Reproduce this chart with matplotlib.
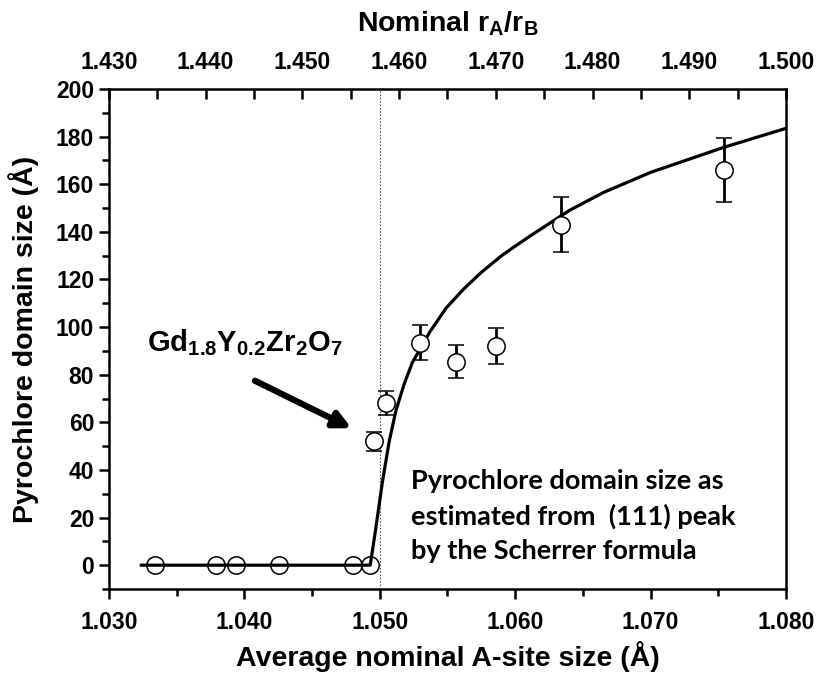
import matplotlib
matplotlib.use("Agg")
import matplotlib.pyplot as plt
from matplotlib.ticker import MultipleLocator, FixedLocator, FormatStrFormatter

plt.rcParams['font.family'] = ['Liberation Sans', 'DejaVu Sans']
plt.rcParams['font.weight'] = 'bold'
plt.rcParams['mathtext.fontset'] = 'custom'
plt.rcParams['mathtext.rm'] = 'Liberation Sans:bold'
plt.rcParams['mathtext.it'] = 'Liberation Sans:bold'
plt.rcParams['mathtext.bf'] = 'Liberation Sans:bold'

# points at zero domain size
x_cero = [1.0334, 1.0379, 1.0394, 1.0426, 1.0480, 1.0493]
y_cero = [0, 0, 0, 0, 0, 0]

# points with a measured domain size
x_med = [1.0496, 1.0505, 1.0530, 1.0556, 1.0586, 1.0634, 1.0754]
y_med = [52, 68, 93.5, 85.5, 92, 143, 166]
err_med = [4, 5, 7.5, 7, 7.5, 11.5, 13.5]

# guide line
x_curva = [1.0324, 1.0493, 1.0497, 1.0502, 1.0507, 1.0512, 1.0518, 1.0524,
           1.0530, 1.0537, 1.0549, 1.0562, 1.0575, 1.0590, 1.0600, 1.0613,
           1.0640, 1.0665, 1.0700, 1.0754, 1.0800]
y_curva = [0, 0, 15, 35, 52, 65, 76, 85, 91, 98, 108, 116, 123, 130, 134,
           139, 149, 156.5, 165, 175.5, 183.5]

x_umbral = 1.050

ticks_sup = [1.430, 1.440, 1.450, 1.460, 1.470, 1.480, 1.490, 1.500]
ticks_sup_menor = [1.435, 1.445, 1.455, 1.465, 1.475, 1.485, 1.495]

fig = plt.figure(figsize=(8.18, 6.77), dpi=100)
ax = fig.add_axes([0.133, 0.130, 0.828, 0.7385])

ax.axvline(x_umbral, color='#555555', lw=0.8, ls=(0, (1.5, 1.5)), zorder=1)
ax.plot(x_curva, y_curva, color='black', lw=2.3, zorder=2)
ax.plot(x_cero, y_cero, 'o', ms=12.5, mfc='none', mec='black', mew=1.1, zorder=3)
ax.errorbar(x_med, y_med, yerr=err_med, fmt='o', ms=12.5, mfc='white', mec='black',
            mew=1.1, ecolor='black', elinewidth=2, capsize=5.5, capthick=2, zorder=3)

ax.set_xlim(1.030, 1.080)
ax.set_ylim(-10, 200)
ax.xaxis.set_major_locator(MultipleLocator(0.01))
ax.xaxis.set_minor_locator(MultipleLocator(0.005))
ax.xaxis.set_major_formatter(FormatStrFormatter('%.3f'))
ax.yaxis.set_major_locator(MultipleLocator(20))
ax.yaxis.set_minor_locator(MultipleLocator(10))
ax.tick_params(which='both', direction='out', width=1.8, labelsize=16.5, right=False, top=False)
ax.tick_params(axis='x', which='both', pad=9)
ax.tick_params(which='major', length=7)
ax.tick_params(which='minor', length=5)
for s in ax.spines.values():
    s.set_linewidth(1.8)

ax.set_xlabel('Average nominal A-site size (Å)', fontsize=20.5, fontweight='bold', labelpad=5)
ax.set_ylabel('Pyrochlore domain size (Å)', fontsize=20.5, fontweight='bold', labelpad=12)

# eje superior r_A/r_B
top = ax.secondary_xaxis('top', functions=(lambda x: 1.43 + (x - 1.03) * 1.4,
                                           lambda t: 1.03 + (t - 1.43) / 1.4))
top.xaxis.set_major_locator(FixedLocator(ticks_sup))
top.xaxis.set_minor_locator(FixedLocator(ticks_sup_menor))
top.xaxis.set_major_formatter(FormatStrFormatter('%.3f'))
top.tick_params(which='both', direction='in', width=1.8, labelsize=16.5, length=7, pad=11)
top.set_xlabel(r'Nominal r$_{\mathrm{A}}$/r$_{\mathrm{B}}$', fontsize=20.5, fontweight='bold', labelpad=14)

ax.annotate('', xy=(1.0481, 57), xytext=(1.0406, 78),
            arrowprops=dict(arrowstyle='-|>,head_length=1.0,head_width=0.5', color='black', lw=4.5))
ax.text(1.0328, 93.5, r'Gd$_{1.8}$Y$_{0.2}$Zr$_2$O$_7$', fontsize=21, fontweight='bold', va='center')

ax.text(1.0523, 40.5, 'Pyrochlore domain size as\nestimated from  (111) peak\nby the Scherrer formula',
        fontsize=19.5, family=['Lato', 'DejaVu Sans'], fontweight='bold', va='top',
        linespacing=1.5)

fig.savefig('out.png', dpi=100)
